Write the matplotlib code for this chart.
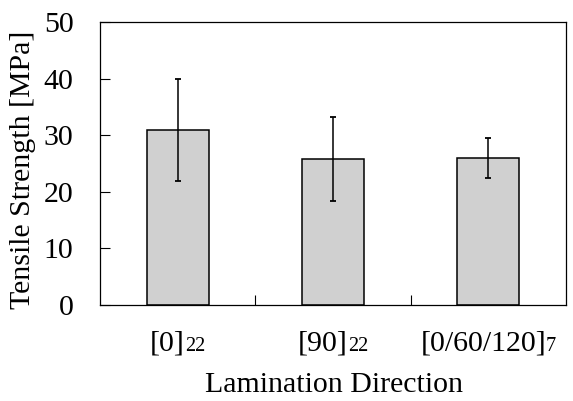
import matplotlib
matplotlib.use("Agg")
import matplotlib.pyplot as plt
from matplotlib.offsetbox import TextArea, HPacker, AnnotationBbox

plt.rcParams['font.family'] = 'Liberation Serif'

# lamination codes: main part + subscript (number of plies)
cat_main = ['[0]', '[90]', '[0/60/120]']
cat_sub = ['22', '22', '7']
strength = [30.9, 25.8, 26.0]
err = [9.0, 7.4, 3.6]

FS = 21.5

fig = plt.figure(figsize=(5.73, 4.01), dpi=100)
ax = fig.add_axes([0.1745, 0.2406, 0.8133, 0.7033])

x = list(range(len(cat_main)))
ax.bar(x, strength, width=0.4, color='#d0d0d0', edgecolor='black', linewidth=1.1,
       yerr=err, error_kw=dict(ecolor='black', elinewidth=1.1, capsize=2.5, capthick=1.3))

ax.set_xlim(-0.5, 2.5)
ax.set_ylim(0, 50)
ax.set_yticks([0, 10, 20, 30, 40, 50])
ax.tick_params(axis='y', direction='in', length=7, width=0.8, labelsize=FS, pad=19)

# ticks between the groups only
ax.set_xticks([0.5, 1.5])
ax.set_xticklabels([])
ax.tick_params(axis='x', which='major', direction='in', length=7, width=0.8)

for s in ax.spines.values():
    s.set_linewidth(0.9)

# category labels with subscript sitting on the baseline
for i in x:
    box = HPacker(children=[TextArea(cat_main[i], textprops=dict(fontsize=FS)),
                            TextArea(cat_sub[i], textprops=dict(fontsize=FS * 0.68))],
                  align='baseline', pad=0, sep=0)
    ab = AnnotationBbox(box, (i, 0), xycoords=('data', 'axes fraction'),
                        xybox=(0, -19), boxcoords='offset points',
                        box_alignment=(0.5, 1), frameon=False, pad=0)
    ax.add_artist(ab)

fig.text(0.5833, 0.022, 'Lamination Direction', fontsize=FS, ha='center', va='baseline')
fig.text(0.040, 0.576, 'Tensile Strength [MPa]', fontsize=FS, rotation=90,
         ha='center', va='center')

fig.savefig('out.png', dpi=100, facecolor='white')
